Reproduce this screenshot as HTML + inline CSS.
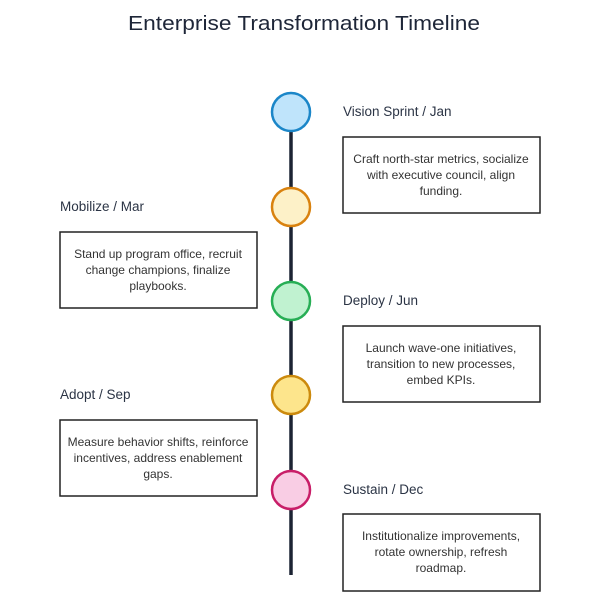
<!DOCTYPE html>
<html><head><meta charset="utf-8"><style>
html,body{margin:0;padding:0;background:#fff;}
svg{display:block;font-family:"Liberation Sans",sans-serif;}
.lbl{font-size:13.5px;fill:#2b3445;}
.bx{fill:#fff;stroke:#222;stroke-width:1.5;}
.t{font-size:12px;fill:#333;text-anchor:middle;}
</style></head><body>
<svg width="600" height="600" viewBox="0 0 600 600">
<text x="304" y="30" font-size="20" fill="#1e2638" text-anchor="middle" textLength="352" lengthAdjust="spacingAndGlyphs">Enterprise Transformation Timeline</text>
<line x1="291" y1="112" x2="291" y2="575" stroke="#1c2333" stroke-width="3.5"/>
<circle cx="291" cy="112" r="19" fill="#bfe4fb" stroke="#1b86c8" stroke-width="2.5"/>
<circle cx="291" cy="207" r="19" fill="#fdf1c8" stroke="#d9820f" stroke-width="2.5"/>
<circle cx="291" cy="301" r="19" fill="#c0f2d0" stroke="#27ae55" stroke-width="2.5"/>
<circle cx="291" cy="395" r="19" fill="#fde58c" stroke="#cc8a0d" stroke-width="2.5"/>
<circle cx="291" cy="490" r="19" fill="#f9cde4" stroke="#c81e68" stroke-width="2.5"/>

<text class="lbl" x="343" y="116">Vision Sprint / Jan</text>
<rect class="bx" x="343" y="137" width="197" height="76"/>
<text class="t" x="441" y="163">Craft north-star metrics, socialize</text>
<text class="t" x="441" y="179">with executive council, align</text>
<text class="t" x="441" y="195">funding.</text>

<text class="lbl" x="60" y="211">Mobilize / Mar</text>
<rect class="bx" x="60" y="232" width="197" height="76"/>
<text class="t" x="158" y="258">Stand up program office, recruit</text>
<text class="t" x="158" y="274">change champions, finalize</text>
<text class="t" x="158" y="290">playbooks.</text>

<text class="lbl" x="343" y="305">Deploy / Jun</text>
<rect class="bx" x="343" y="326" width="197" height="76"/>
<text class="t" x="441" y="352">Launch wave-one initiatives,</text>
<text class="t" x="441" y="368">transition to new processes,</text>
<text class="t" x="441" y="384">embed KPIs.</text>

<text class="lbl" x="60" y="399">Adopt / Sep</text>
<rect class="bx" x="60" y="420" width="197" height="76"/>
<text class="t" x="158" y="446">Measure behavior shifts, reinforce</text>
<text class="t" x="158" y="462">incentives, address enablement</text>
<text class="t" x="158" y="478">gaps.</text>

<text class="lbl" x="343" y="494">Sustain / Dec</text>
<rect class="bx" x="343" y="514" width="197" height="77"/>
<text class="t" x="441" y="540">Institutionalize improvements,</text>
<text class="t" x="441" y="556">rotate ownership, refresh</text>
<text class="t" x="441" y="572">roadmap.</text>
</svg>
</body></html>
